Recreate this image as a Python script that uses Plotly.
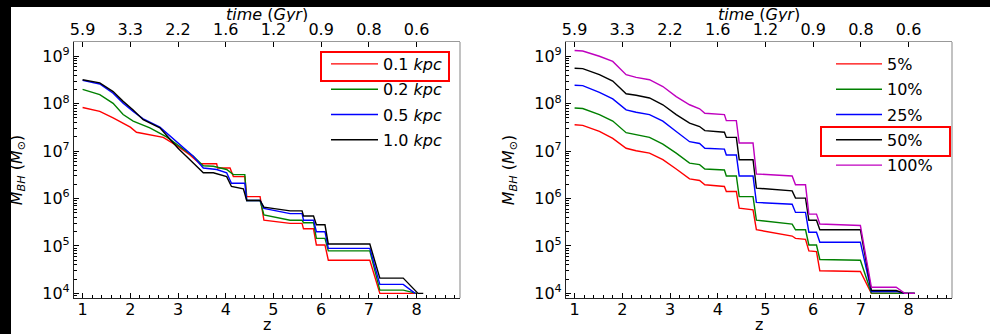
import math
import plotly.graph_objects as go

# ---------------- data ----------------
# Left panel: M_BH vs z for different accretion radii
z_01 = [1.0, 1.36, 1.64, 2.0, 2.13, 2.34, 2.69, 3.0, 3.25, 3.46, 3.81, 3.83, 4.09, 4.16, 4.40, 4.44,
        4.72, 4.80, 5.35, 5.60, 5.63, 5.84, 5.90, 6.08, 6.15, 7.02, 7.23, 8.0]
m_01 = [8.3e7, 6.9e7, 5.0e7, 3.2e7, 2.5e7, 2.3e7, 1.95e7, 1.26e7, 8.3e6, 5.4e6, 5.4e6, 4.4e6, 4.4e6,
        2.9e6, 2.9e6, 1.1e6, 1.1e6, 3.5e5, 3.0e5, 3.0e5, 2.3e5, 2.3e5, 1.05e5, 1.05e5, 5.0e4, 5.0e4,
        1.0e4, 1.0e4]

z_02 = [1.0, 1.36, 1.64, 1.85, 2.06, 2.41, 2.76, 3.04, 3.32, 3.53, 3.74, 4.02, 4.16, 4.40, 4.44, 4.72,
        4.80, 5.35, 5.60, 5.63, 5.84, 5.90, 6.08, 6.15, 7.02, 7.23, 7.72, 8.0]
m_02 = [2.0e8, 1.55e8, 1.02e8, 5.9e7, 4.3e7, 3.1e7, 2.0e7, 1.26e7, 7.8e6, 4.9e6, 4.8e6, 4.1e6, 3.2e6,
        3.2e6, 9.1e5, 9.1e5, 4.5e5, 3.5e5, 3.5e5, 3.1e5, 3.1e5, 1.45e5, 1.45e5, 7.9e4, 7.9e4, 1.17e4,
        1.17e4, 1.0e4]

z_05 = [1.0, 1.36, 1.64, 1.85, 2.06, 2.27, 2.62, 3.04, 3.32, 3.53, 3.81, 4.02, 4.12, 4.40, 4.44, 4.72,
        4.80, 5.35, 5.60, 5.63, 5.84, 5.90, 6.08, 6.15, 7.02, 7.23, 7.72, 7.97]
m_05 = [3.1e8, 2.6e8, 1.66e8, 1.02e8, 6.9e7, 4.8e7, 3.2e7, 1.35e7, 7.8e6, 4.4e6, 4.1e6, 3.5e6, 2.1e6,
        2.1e6, 9.1e5, 9.1e5, 6.2e5, 4.8e5, 4.8e5, 3.5e5, 3.5e5, 2.0e5, 2.0e5, 8.9e4, 8.9e4, 1.55e4,
        1.55e4, 1.0e4]

z_10 = [1.0, 1.36, 1.64, 1.85, 2.06, 2.27, 2.62, 3.0, 3.32, 3.53, 3.74, 4.02, 4.12, 4.37, 4.44, 4.72,
        4.80, 5.35, 5.60, 5.63, 5.84, 5.90, 6.08, 6.15, 7.02, 7.23, 7.72, 8.03, 8.14]
m_10 = [3.2e8, 2.75e8, 1.8e8, 1.12e8, 7.4e7, 4.6e7, 3.1e7, 1.15e7, 5.6e6, 3.5e6, 3.5e6, 2.9e6, 1.8e6,
        1.6e6, 9.1e5, 9.1e5, 6.6e5, 5.5e5, 5.5e5, 4.3e5, 4.3e5, 2.8e5, 2.8e5, 1.1e5, 1.1e5, 2.1e4,
        2.1e4, 1.0e4, 1.0e4]

left_names = ["0.1 <i>kpc</i>", "0.2 <i>kpc</i>", "0.5 <i>kpc</i>", "1.0 <i>kpc</i>"]

# Right panel: M_BH vs z for different fractions
z_right = [1.0, 1.17, 1.52, 1.80, 2.08, 2.29, 2.57, 2.85, 3.13, 3.41, 3.62, 3.73, 4.14, 4.18, 4.39,
           4.45, 4.74, 4.81, 5.56, 5.63, 5.84, 5.91, 6.07, 6.14, 6.99, 7.22, 7.74, 7.92, 8.13]
m_5 = [3.6e7, 3.5e7, 2.6e7, 1.86e7, 1.15e7, 1.02e7, 9.1e6, 6.6e6, 4.2e6, 2.6e6, 2.4e6, 1.95e6, 1.8e6,
       1.41e6, 1.41e6, 6.3e5, 5.8e5, 2.2e5, 1.62e5, 1.45e5, 1.38e5, 7.9e4, 7.6e4, 3.0e4, 2.9e4, 1.0e4,
       1.0e4, 1.0e4, 1.0e4]
m_10p = [8.1e7, 7.9e7, 5.9e7, 4.3e7, 2.45e7, 2.2e7, 1.95e7, 1.41e7, 9.1e6, 5.6e6, 5.2e6, 4.2e6, 4.0e6,
         3.0e6, 3.0e6, 1.1e6, 1.1e6, 3.5e5, 2.9e5, 2.2e5, 2.2e5, 1.05e5, 1.05e5, 5.2e4, 5.0e4, 1.02e4,
         1.02e4, 1.0e4, 1.0e4]
m_25 = [2.45e8, 2.4e8, 1.74e8, 1.26e8, 7.4e7, 6.6e7, 5.9e7, 4.3e7, 2.6e7, 1.58e7, 1.45e7, 1.15e7, 1.1e7,
        8.3e6, 8.3e6, 3.0e6, 3.0e6, 8.3e5, 7.6e5, 5.1e5, 5.1e5, 1.95e5, 1.95e5, 1.2e5, 1.2e5, 1.1e4,
        1.1e4, 1.0e4, 1.0e4]
m_50 = [5.6e8, 5.5e8, 4.1e8, 3.0e8, 1.62e8, 1.51e8, 1.32e8, 9.5e7, 5.9e7, 3.9e7, 3.3e7, 2.7e7, 2.5e7,
        1.95e7, 1.95e7, 6.6e6, 6.6e6, 1.66e6, 1.45e6, 1.02e6, 1.02e6, 3.5e5, 3.5e5, 2.2e5, 2.2e5, 1.15e4,
        1.15e4, 1.0e4, 1.0e4]
m_100 = [1.32e9, 1.29e9, 1.0e9, 7.8e8, 4.1e8, 3.6e8, 3.2e8, 2.3e8, 1.41e8, 9.5e7, 7.8e7, 6.3e7, 5.9e7,
         4.4e7, 4.4e7, 1.48e7, 1.48e7, 3.3e6, 3.0e6, 1.95e6, 1.95e6, 4.7e5, 4.7e5, 2.9e5, 2.7e5, 1.35e4,
         1.35e4, 1.0e4, 1.0e4]

right_names = ["5%", "10%", "25%", "50%", "100%"]

z_ticks = [1, 2, 3, 4, 5, 6, 7, 8]
time_labels = ["5.9", "3.3", "2.2", "1.6", "1.2", "0.9", "0.8", "0.6"]
y_exponents = [4, 5, 6, 7, 8, 9]

# ---------------- styling ----------------
W, H = 990, 334
FONT = "DejaVu Sans"
colors4 = ["#ff0000", "#008000", "#0000ff", "#000000"]
colors5 = ["#ff0000", "#008000", "#0000ff", "#000000", "#bf00bf"]

def px(x):
    return x / W

def py(y):
    return 1 - y / H

fig = go.Figure()

for zz, mm, nm, c in zip([z_01, z_02, z_05, z_10], [m_01, m_02, m_05, m_10], left_names, colors4):
    fig.add_trace(go.Scatter(x=zz, y=mm, mode="lines", name=nm, line=dict(color=c, width=1.4),
                             xaxis="x", yaxis="y", legend="legend", legendgroup="L" + nm))

for mm, nm, c in zip([m_5, m_10p, m_25, m_50, m_100], right_names, colors5):
    fig.add_trace(go.Scatter(x=z_right, y=mm, mode="lines", name=nm, line=dict(color=c, width=1.4),
                             xaxis="x2", yaxis="y2", legend="legend2", legendgroup="R" + nm))

# empty traces so that the top (time) axes are drawn
for xa, ya in [("x3", "y"), ("x4", "y2")]:
    fig.add_trace(go.Scatter(x=z_ticks, y=[None] * len(z_ticks), mode="lines", showlegend=False,
                             hoverinfo="skip", xaxis=xa, yaxis=ya))

xrange = [0.82, 8.91]
yrange = [math.log10(8e3), math.log10(2e9)]
ydom = [py(298), py(42)]
minor_y = [k * 10 ** e for e in range(3, 10) for k in range(2, 10)]
y_tickvals = [10 ** e for e in y_exponents]
y_ticktext = ["10<sup>%d</sup>" % e for e in y_exponents]
tfont = dict(family=FONT, size=16, color="black")

def xaxis_common(dom, anchor):
    return dict(domain=dom, anchor=anchor, range=xrange, tickvals=z_ticks, ticks="inside",
                ticklen=5, tickwidth=1, tickcolor="black", showline=True, linecolor="#222",
                linewidth=1.2, showgrid=False, zeroline=False, automargin=False,
                tickfont=tfont, ticklabelstandoff=-3,
                minor=dict(ticks="inside", dtick=0.2, tick0=0, ticklen=3, tickcolor="black", showgrid=False))

def xaxis_top(over, anchor):
    return dict(overlaying=over, anchor=anchor, side="top", range=xrange, tickvals=z_ticks,
                ticktext=time_labels, ticks="inside", ticklen=5, tickcolor="black",
                showline=True, linecolor="#999", linewidth=1.2, showgrid=False, zeroline=False,
                automargin=False, tickfont=tfont)

def yaxis_common(anchor):
    return dict(domain=ydom, anchor=anchor, type="log", range=yrange, tickvals=y_tickvals,
                ticktext=y_ticktext, ticks="inside", ticklen=5,
                tickcolor="black", showline=True, linecolor="#222", linewidth=1.2, showgrid=False,
                zeroline=False, automargin=False, tickfont=tfont,
                minor=dict(ticks="inside", tickvals=minor_y, ticklen=3, tickcolor="black", showgrid=False),
                title=dict(text="<i>M</i><sub><i>BH</i></sub> (<i>M</i><sub>\u2299</sub>)",
                           font=tfont))

legend_common = dict(bgcolor="rgba(0,0,0,0)", borderwidth=0, xanchor="left", yanchor="top",
                     font=tfont, tracegroupgap=1.5, traceorder="grouped",
                     itemclick=False, itemdoubleclick=False)

annotations = []
for cx in [267, 759]:
    annotations.append(dict(text="z", x=px(cx), y=0, xref="paper", yref="paper", height=15,
                            showarrow=False, font=tfont, xanchor="center", yanchor="bottom",
                            valign="middle"))
    annotations.append(dict(text="<i>time</i> (<i>Gyr</i>)", x=px(cx), y=py(13.5), xref="paper",
                            yref="paper", showarrow=False, font=tfont, xanchor="center",
                            yanchor="middle", height=16, valign="middle"))

fig.update_layout(
    width=W, height=H, margin=dict(l=0, r=0, t=0, b=0, autoexpand=False),
    paper_bgcolor="white", plot_bgcolor="white",
    xaxis=xaxis_common([px(74), px(460)], "y"),
    xaxis2=xaxis_common([px(566), px(952)], "y2"),
    xaxis3=xaxis_top("x", "y"),
    xaxis4=xaxis_top("x2", "y2"),
    yaxis=yaxis_common("x"),
    yaxis2=yaxis_common("x2"),
    legend=dict(x=px(326), y=py(47), itemwidth=47, **legend_common),
    legend2=dict(x=px(831), y=py(47), itemwidth=46, **legend_common),
    showlegend=True,
    annotations=annotations,
    shapes=[
        # right spines (grey)
        dict(type="line", xref="x domain", yref="y domain", x0=1, x1=1, y0=0, y1=1,
             line=dict(color="#999", width=1.2)),
        dict(type="line", xref="x2 domain", yref="y2 domain", x0=1, x1=1, y0=0, y1=1,
             line=dict(color="#999", width=1.2)),
        # highlight boxes
        dict(type="rect", xref="paper", yref="paper", x0=px(321), x1=px(449), y0=py(81), y1=py(52),
             line=dict(color="#ff0000", width=2)),
        dict(type="rect", xref="paper", yref="paper", x0=px(821), x1=px(950), y0=py(156), y1=py(127),
             line=dict(color="#ff0000", width=2)),
        # black borders of the original image
        dict(type="rect", xref="paper", yref="paper", x0=0, x1=px(11), y0=0, y1=1,
             fillcolor="black", line=dict(width=0)),
        dict(type="rect", xref="paper", yref="paper", x0=0, x1=1, y0=py(7), y1=1,
             fillcolor="black", line=dict(width=0)),
    ],
)

fig.write_html("out.html")
